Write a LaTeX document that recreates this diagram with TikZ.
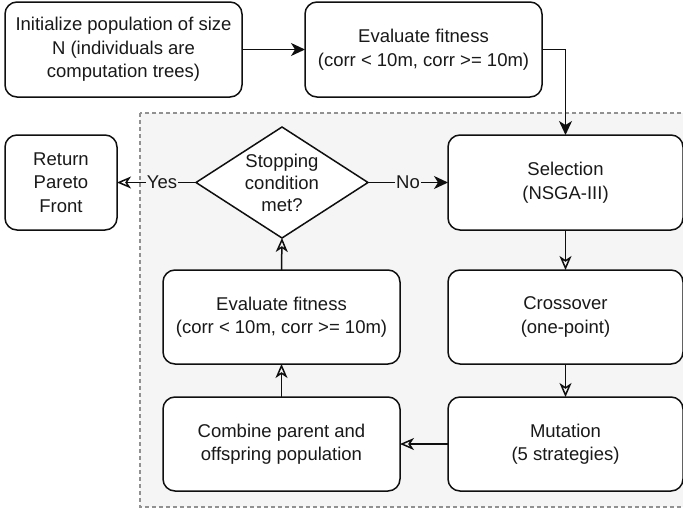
\documentclass[tikz,border=0pt]{standalone}
\usepackage{fontspec}
\setmainfont{Liberation Sans}
\usepackage{tikz}
\usetikzlibrary{arrows.meta, shapes.geometric}
\definecolor{LineColor}{RGB}{15,15,15}
\definecolor{TextColor}{RGB}{25,25,25}
\definecolor{PanelColor}{RGB}{245,245,245}
\definecolor{PanelBorder}{RGB}{145,145,145}
\tikzstyle{box} = [draw=LineColor, line width=1.5pt, rounded corners=12pt, fill=white, text=TextColor, align=center, inner sep=0pt, outer sep=0pt, minimum width=237pt, minimum height=95pt, font=\fontsize{18.5}{23.5}\selectfont]
\tikzstyle{decision} = [diamond, draw=LineColor, line width=1.5pt, fill=white, inner sep=0pt, outer sep=0pt, minimum width=172pt, minimum height=111pt]
\tikzstyle{arrow} = [line width=1.5pt, LineColor, -{Stealth[length=14pt, width=13pt, inset=4pt]}]
\tikzstyle{openarrow} = [line width=1.5pt, LineColor, -{Stealth[open, length=14pt, width=12pt, inset=4pt]}]
\tikzstyle{edgelabel} = [fill=PanelColor, text=TextColor, inner sep=1pt, font=\fontsize{18.5}{22}\selectfont]

\begin{document}
\begin{tikzpicture}[x=1pt, y=-1pt]
    \useasboundingbox (0,0) rectangle (683,509);

    % loop region
    \draw[PanelBorder, fill=PanelColor, line width=1.2pt, dash pattern=on 4pt off 3pt] (140,113) rectangle (685,507);

    % steps
    \node[box] (init) at (123.5,49.5) {Initialize population of size\\N (individuals are\\computation trees)};
    \node[box] (eval) at (423.5,49.5) {Evaluate fitness\\(corr < 10m, corr >= 10m)};
    \node[box, minimum width=235pt] (sel) at (565.5,182.5) {Selection\\(NSGA-III)};
    \node[box, minimum width=235pt, minimum height=94pt] (cross) at (565.5,317) {Crossover\\(one-point)};
    \node[box, minimum width=235pt, minimum height=94pt] (mut) at (565.5,444) {Mutation\\(5 strategies)};
    \node[box, minimum height=94pt] (reeval) at (281.5,317) {Evaluate fitness\\(corr < 10m, corr >= 10m)};
    \node[box, minimum height=94pt] (comb) at (281.5,444) {Combine parent and\\offspring population};
    \node[box, minimum width=112pt] (ret) at (61,182.5) {Return\\Pareto\\Front};
    \node[decision, label={[text=TextColor, align=center, font=\fontsize{18.5}{22}\selectfont]center:Stopping\\condition\\met?}] (stop) at (282,182.5) {};

    % connectors
    \draw[arrow] (init.east) -- (eval.west);
    \draw[arrow] (eval.east) -| (sel.north);
    \draw[arrow] (stop.east) -- node[edgelabel] {No} (sel.west);
    \draw[openarrow] (sel.south) -- (cross.north);
    \draw[openarrow] (cross.south) -- (mut.north);
    \draw[openarrow] (mut.west) -- (comb.east);
    \draw[openarrow] (comb.north) -- (reeval.south);
    \draw[openarrow] (reeval.north) -- (stop.south);
    \draw[openarrow] (stop.west) -- node[edgelabel, pos=0.43] {Yes} (ret.east);
\end{tikzpicture}
\end{document}
